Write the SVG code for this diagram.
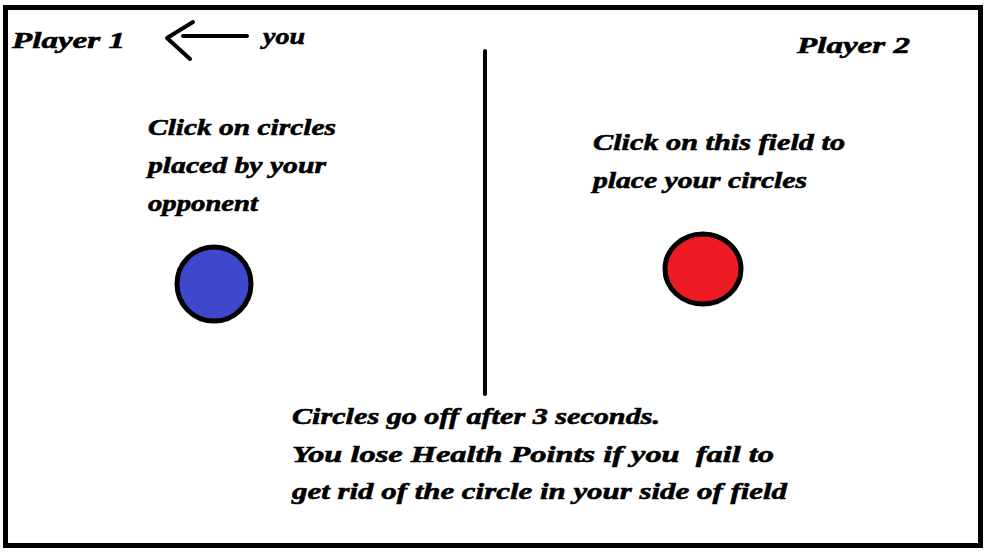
<svg xmlns="http://www.w3.org/2000/svg" width="990" height="556" viewBox="0 0 990 556">
<style>
text{font-family:"Liberation Serif","DejaVu Serif",serif;font-weight:bold;font-style:italic;font-size:24px;fill:#000;stroke:#000;stroke-width:0.6;white-space:pre}
.ln{stroke:#000;fill:none;stroke-linecap:round;stroke-linejoin:round}
</style>
<rect x="0" y="0" width="990" height="556" fill="#fff"/>
<rect x="5.5" y="7.5" width="975" height="538" fill="none" stroke="#000" stroke-width="5"/>
<g id="divider"><line class="ln" x1="485" y1="51" x2="485" y2="394" stroke-width="4"/></g>
<g id="player1"><text x="12" y="48" textLength="113" lengthAdjust="spacingAndGlyphs">Player 1</text></g>
<g id="connectors"><path class="ln" d="M183 36H247M193 22L167 38L190 59" stroke-width="4"/></g>
<g id="you"><text x="263" y="44" textLength="42" lengthAdjust="spacingAndGlyphs">you</text></g>
<g id="player2"><text x="797" y="53" textLength="113" lengthAdjust="spacingAndGlyphs">Player 2</text></g>
<g id="left-note">
<text x="148" y="135" textLength="188" lengthAdjust="spacingAndGlyphs">Click on circles</text>
<text x="148" y="173" textLength="178" lengthAdjust="spacingAndGlyphs">placed by your</text>
<text x="148" y="211" textLength="110" lengthAdjust="spacingAndGlyphs">opponent</text>
</g>
<g id="right-note">
<text x="593" y="150" textLength="252" lengthAdjust="spacingAndGlyphs">Click on this field to</text>
<text x="593" y="188" textLength="214" lengthAdjust="spacingAndGlyphs">place your circles</text>
</g>
<g id="blue-circle"><circle cx="214" cy="284" r="37" fill="#3f48cc" stroke="#000" stroke-width="5"/></g>
<g id="red-circle"><ellipse cx="703" cy="269" rx="38" ry="35" fill="#ed1c24" stroke="#000" stroke-width="5"/></g>
<g id="bottom-note">
<text x="292" y="424" textLength="368" lengthAdjust="spacingAndGlyphs">Circles go off after 3 seconds.</text>
<text x="292" y="462" textLength="482" lengthAdjust="spacingAndGlyphs" xml:space="preserve">You lose Health Points if you  fail to</text>
<text x="292" y="499" textLength="495" lengthAdjust="spacingAndGlyphs">get rid of the circle in your side of field</text>
</g>
</svg>
